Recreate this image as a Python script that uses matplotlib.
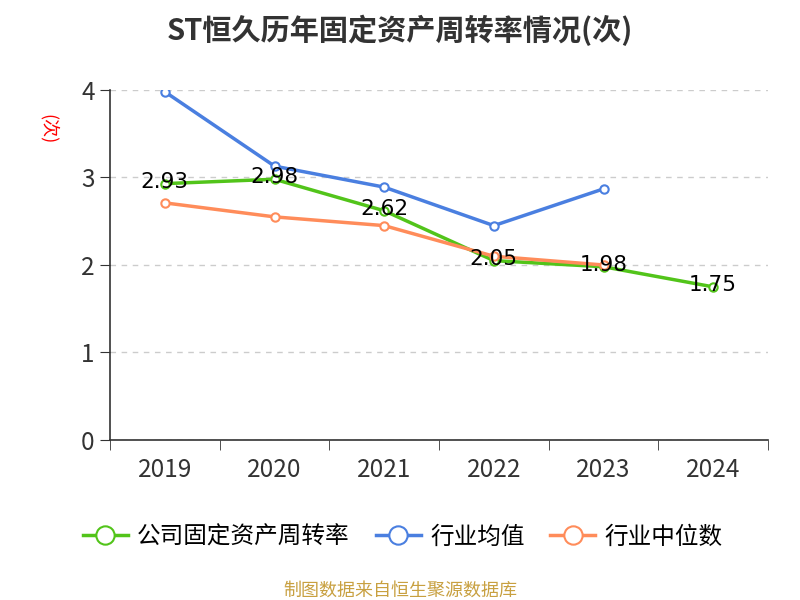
import numpy as np
import matplotlib.pyplot as plt

plt.rcParams['font.family'] = ['Noto Sans CJK SC', 'DejaVu Sans']

years = ['2019', '2020', '2021', '2022', '2023', '2024']
company = [2.93, 2.98, 2.62, 2.05, 1.98, 1.75]
industry_mean = [3.98, 3.13, 2.89, 2.45, 2.87]
industry_median = [2.71, 2.55, 2.45, 2.10, 2.00]

green = '#52c41a'
blue = '#4a7fe0'
orange = '#ff8c5a'

fig = plt.figure(figsize=(8, 6), dpi=100)
ax = fig.add_axes([0.1375, 0.2667, 0.8225, 0.5833])

x = np.arange(len(years))
ax.plot(x, company, color=green, lw=2.5, marker='o', ms=6, mfc='white', mec=green, mew=1.5, zorder=3, label='公司固定资产周转率')
ax.plot(x[:5], industry_mean, color=blue, lw=2.5, marker='o', ms=6, mfc='white', mec=blue, mew=1.5, zorder=3, label='行业均值')
ax.plot(x[:5], industry_median, color=orange, lw=2.5, marker='o', ms=6, mfc='white', mec=orange, mew=1.5, zorder=3, label='行业中位数')

for xi, v in zip(x, company):
    ax.text(xi, v + 0.02, f'{v:.2f}', ha='center', va='center', fontsize=15.5, color='black', zorder=4,
            family='DejaVu Sans')

ax.set_xlim(-0.5, 5.5)
ax.set_ylim(0, 4)
ax.set_yticks([0, 1, 2, 3, 4])
ax.yaxis.grid(True, ls=(0, (4, 4)), color='#cccccc', lw=1)
ax.set_axisbelow(True)
ax.set_xticks(x)
ax.set_xticklabels(years)
ax.set_xticks(np.arange(-0.5, 6, 1), minor=True)
ax.tick_params(axis='x', which='major', length=0, pad=12, labelsize=17.5, labelcolor='#333333')
ax.tick_params(axis='x', which='minor', length=7, color='#333333')
ax.tick_params(axis='y', length=7, color='#333333', labelsize=17.5, labelcolor='#333333', pad=4)
for s in ['top', 'right']:
    ax.spines[s].set_visible(False)
for s in ['left', 'bottom']:
    ax.spines[s].set_color('#333333')
    ax.spines[s].set_linewidth(1.2)

fig.text(0.06, 0.785, '(次)', color='red', fontsize=13, rotation=-90, ha='center', va='center')
fig.suptitle('ST恒久历年固定资产周转率情况(次)', y=0.975, fontsize=21, fontweight='bold', color='#333333')

ax.legend(loc='center', bbox_to_anchor=(0.445, -0.277), ncol=3, frameon=False, fontsize=17,
          handlelength=1.9, columnspacing=1.1, handletextpad=0.4, markerscale=2.2)
fig.text(0.5, 0.008, '制图数据来自恒生聚源数据库', color='#c8a040', fontsize=13, ha='center')

fig.savefig('out.png')
